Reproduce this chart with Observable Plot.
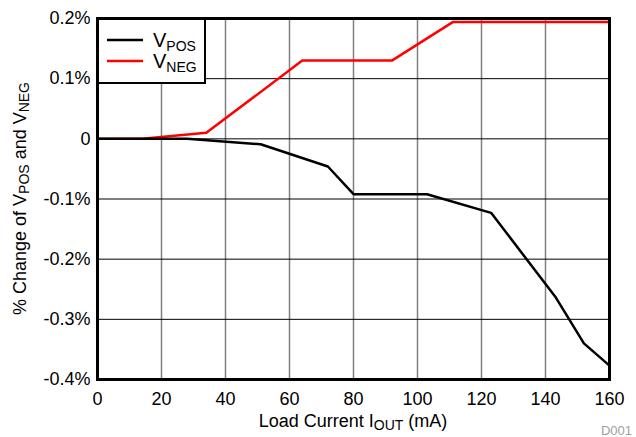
<!DOCTYPE html>
<html>
<head>
<meta charset="utf-8">
<script src="https://cdn.jsdelivr.net/npm/d3@7"></script>
<script src="https://cdn.jsdelivr.net/npm/@observablehq/plot@0.6"></script>
<style>
  html, body { margin: 0; padding: 0; background: #fff; }
  #chart { position: relative; width: 636px; height: 437px; }
  svg { font-family: "Liberation Sans", Arial, sans-serif; }
</style>
</head>
<body>
<div id="chart"></div>
<script>
// Load current (mA) and % change values
const vPosCurrent = [0, 13, 28, 51, 72, 80, 103, 123, 143, 152, 160];
const vPosChange  = [0, 0, 0, -0.009, -0.046, -0.092, -0.092, -0.123, -0.262, -0.340, -0.377];
const vNegCurrent = [0, 14, 34, 64, 92, 111, 160];
const vNegChange  = [0, 0, 0.010, 0.130, 0.130, 0.194, 0.194];

const xTicks = [0, 20, 40, 60, 80, 100, 120, 140, 160];
const yTicks = [-0.4, -0.3, -0.2, -0.1, 0, 0.1, 0.2];
const yTickLabels = ["-0.4%", "-0.3%", "-0.2%", "-0.1%", "0", "0.1%", "0.2%"];

const seriesNames = ["VPOS", "VNEG"];
const seriesColors = ["#000000", "#ff0000"];

const posData = vPosCurrent.map((x, i) => ({x, y: vPosChange[i]}));
const negData = vNegCurrent.map((x, i) => ({x, y: vNegChange[i]}));

const W = 636, H = 437;
const mL = 97, mR = 27, mT = 18, mB = 58;

const plot = Plot.plot({
  width: W,
  height: H,
  marginLeft: mL,
  marginRight: mR,
  marginTop: mT,
  marginBottom: mB,
  style: {fontFamily: '"Liberation Sans", Arial, sans-serif', fontSize: "18px", color: "#000", background: "#fff"},
  x: {domain: [0, 160], ticks: xTicks, label: null},
  y: {domain: [-0.4, 0.2], ticks: yTicks, label: null},
  marks: [
    Plot.gridX(xTicks, {stroke: "#808080", strokeOpacity: 1, strokeWidth: 1.5}),
    Plot.gridY(yTicks, {stroke: "#000", strokeOpacity: 1, strokeWidth: 1}),
    Plot.line(negData, {x: "x", y: "y", stroke: seriesColors[1], strokeWidth: 2.5}),
    Plot.line(posData, {x: "x", y: "y", stroke: seriesColors[0], strokeWidth: 2.5}),
    Plot.frame({stroke: "#000", strokeWidth: 3}),
    Plot.axisX(xTicks, {tickSize: 0, tickPadding: 13, fontSize: 18}),
    Plot.axisY(yTicks, {tickSize: 0, tickPadding: 7, fontSize: 18,
      tickFormat: d => yTickLabels[yTicks.indexOf(d)]})
  ]
});
document.getElementById("chart").appendChild(plot);

const svg = d3.select(plot);

function subText(t, parts, size, subSize) {
  // parts: array of [text, isSub]
  parts.forEach(([s, sub], i) => {
    const prevSub = i > 0 && parts[i-1][1];
    const ts = t.append("tspan").text(s).attr("font-size", sub ? subSize : size);
    let dy = 0;
    if (sub && !prevSub) dy = size * 0.18;
    if (!sub && prevSub) dy = -size * 0.18;
    if (dy) ts.attr("dy", dy);
  });
}

// X axis title
const xt = svg.append("text")
  .attr("x", (mL + (W - mR)) / 2)
  .attr("y", 427)
  .attr("text-anchor", "middle")
  .attr("fill", "#000")
  .attr("font-size", 18);
subText(xt, [["Load Current I", false], ["OUT", true], [" (mA)", false]], 18, 14);

// Y axis title
const yt = svg.append("text")
  .attr("transform", `translate(26,${(mT + (H - mB)) / 2}) rotate(-90)`)
  .attr("text-anchor", "middle")
  .attr("fill", "#000")
  .attr("font-size", 18);
subText(yt, [["% Change of V", false], ["POS", true], [" and V", false], ["NEG", true]], 18, 14);

// Legend
const lg = svg.append("g").attr("text-anchor", "start");
lg.append("rect")
  .attr("x", 98).attr("y", 19).attr("width", 107).attr("height", 64)
  .attr("fill", "#fff").attr("stroke", "#000").attr("stroke-width", 2);
seriesNames.forEach((name, i) => {
  const y = 40 + i * 21;
  lg.append("line").attr("x1", 107).attr("x2", 143).attr("y1", y).attr("y2", y)
    .attr("stroke", seriesColors[i]).attr("stroke-width", 2.5);
  const t = lg.append("text").attr("x", 153).attr("y", y + 7)
    .attr("text-anchor", "start")
    .attr("fill", "#000").attr("font-size", 20);
  subText(t, [[name[0], false], [name.slice(1), true]], 20, 14);
});

// Figure id
svg.append("text")
  .attr("x", 632).attr("y", 435)
  .attr("text-anchor", "end")
  .attr("fill", "#a0a0a0")
  .attr("font-size", 13)
  .text("D001");
</script>
</body>
</html>
